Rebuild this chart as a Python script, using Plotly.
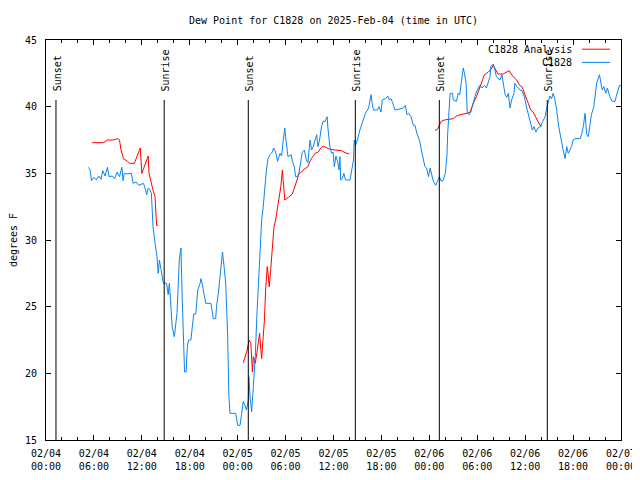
import pandas as pd
import plotly.graph_objects as go

# ---------------- data ----------------
base_time = "2025-02-04 00:00"

# C1828 observations (hours after 02/04 00:00 UTC, dew point F)
obs_hours = [5.3, 5.5, 5.7, 6.0, 6.3, 6.6, 6.9, 7.1, 7.4, 7.7, 7.9, 8.3, 8.6, 8.9, 9.2, 9.5, 9.65, 9.8,
             10.2, 10.7, 10.9, 11.3, 11.6, 12.2, 12.4, 12.6, 12.8, 13.0, 13.2, 13.4, 13.6, 13.9, 14.05,
             14.2, 14.4, 14.7, 15.1, 15.3, 15.45, 15.65, 15.8, 16.07, 16.4, 16.7, 16.9, 17.05, 17.2,
             17.35, 17.55, 17.7, 17.85, 18.15, 18.3, 18.5, 18.75, 18.9, 19.0, 19.3, 19.4, 19.55, 19.8,
             20.0, 20.65, 20.95, 21.25, 21.35, 21.6, 21.8, 22.0, 22.1, 22.3, 22.5, 22.75, 22.9, 23.04,
             23.75, 24.0, 24.3, 24.5, 24.7, 24.9, 25.1, 25.33, 25.4, 25.55, 25.65, 25.75, 25.96, 26.2,
             26.4, 26.6, 26.8, 27.0, 27.2, 27.4, 27.6, 27.8, 28.05, 28.35, 28.5, 28.75, 29.0, 29.3,
             29.5, 29.7, 29.9, 30.0, 30.1, 30.3, 30.7, 30.85, 31.1, 31.25, 31.5, 31.7, 31.8, 32.1,
             32.35, 32.6, 32.8, 33.06, 33.25, 33.45, 33.7, 33.9, 34.05, 34.25, 34.5, 34.7, 34.95,
             35.2, 35.3, 35.55, 35.75, 35.95, 36.1, 36.3, 36.5, 36.7, 36.8, 36.9, 37.1, 37.3, 37.5,
             38.07, 38.5, 38.6, 38.75, 39.0, 39.3, 39.7, 40.0, 40.4, 40.7, 40.85, 41.0, 41.5, 41.7,
             41.95, 42.1, 42.5, 42.8, 43.0, 43.2, 43.4, 43.7, 44.1, 44.75, 45.0, 45.2, 45.4, 45.7,
             46.0, 46.2, 46.4, 46.6, 46.8, 47.0, 47.2, 47.45, 47.65, 47.9, 48.1, 48.3, 48.5, 48.8,
             49.05, 49.25, 49.5, 49.75, 50.0, 50.2, 50.3, 50.5, 50.6, 50.9, 51.0, 51.4, 51.6, 51.8,
             52.05, 52.25, 52.4, 52.6, 52.75, 53.0, 53.2, 53.4, 53.7, 53.9, 54.3, 54.6, 54.9, 55.15,
             55.4, 55.6, 55.7, 56.0, 56.2, 56.4, 56.85, 57.1, 57.3, 57.5, 57.7, 57.9, 58.1, 58.3,
             58.6, 58.7, 59.0, 59.35, 59.6, 59.9, 60.2, 60.5, 60.7, 60.9, 61.1, 61.35, 61.6, 61.9,
             62.2, 62.5, 62.7, 62.9, 63.1, 63.3, 63.5, 63.7, 63.95, 64.2, 64.4, 64.6, 64.8, 65.0,
             65.2, 65.4, 65.6, 65.8, 66.0, 66.25, 66.9, 67.1, 67.3, 67.5, 67.7, 67.9, 68.1, 68.3,
             68.6, 68.75, 68.95, 69.3, 69.45, 69.65, 69.85, 70.1, 70.3, 70.6, 70.9, 71.25, 71.4,
             71.6, 71.8, 72.0]
obs_values = [35.45, 35.3, 34.45, 34.7, 34.5, 34.8, 34.55, 35.2, 34.8, 35.45, 34.75, 34.8, 34.6, 35.1,
              34.75, 35.45, 34.45, 35.0, 34.95, 35.0, 34.25, 34.35, 34.1, 34.25, 33.9, 33.4, 33.9,
              33.8, 33.5, 31.0, 30.0, 28.75, 27.5, 28.5, 27.8, 26.75, 26.75, 25.9, 26.75, 25.25, 23.5,
              22.75, 24.5, 28.6, 29.4, 25.75, 22.0, 20.1, 20.1, 22.0, 22.5, 22.5, 23.4, 24.45, 24.45,
              25.6, 26.25, 26.75, 27.1, 26.75, 25.75, 25.25, 25.25, 24.1, 24.1, 25.0, 26.1, 27.5,
              28.4, 29.1, 28.0, 26.75, 22.75, 18.25, 17.0, 17.0, 16.1, 16.1, 17.0, 17.9, 17.6, 17.25,
              18.0, 19.75, 18.25, 17.3, 17.1, 19.0, 21.25, 24.25, 27.0, 29.75, 31.5, 32.5, 34.0,
              35.25, 36.1, 36.4, 36.6, 36.9, 36.6, 35.9, 36.5, 36.3, 37.4, 38.4, 37.75, 37.2, 36.25,
              36.4, 35.9, 35.5, 34.75, 34.75, 35.1, 35.5, 36.6, 36.75, 36.0, 35.8, 37.5, 36.75, 37.0,
              37.5, 37.9, 37.0, 37.5, 38.5, 38.9, 38.9, 39.25, 38.4, 37.0, 36.5, 36.6, 35.5, 36.3,
              35.9, 35.25, 36.25, 34.5, 34.6, 35.0, 34.5, 34.5, 36.0, 37.5, 37.1, 37.5, 38.25, 38.9,
              39.5, 39.9, 40.9, 40.2, 39.75, 39.75, 40.0, 39.6, 40.5, 40.6, 40.8, 40.5, 40.6, 40.3,
              39.75, 39.8, 39.9, 40.1, 39.4, 39.5, 39.25, 38.6, 38.6, 38.1, 37.75, 37.4, 36.75, 36.25,
              35.5, 35.4, 34.75, 35.4, 34.75, 34.4, 34.1, 34.4, 34.75, 34.4, 34.5, 35.0, 36.25, 38.0,
              39.75, 41.0, 41.0, 40.5, 40.4, 41.0, 40.9, 42.0, 42.9, 42.5, 41.75, 39.5, 39.4, 39.6,
              40.1, 40.75, 41.1, 41.6, 41.4, 41.6, 41.4, 42.0, 42.25, 43.0, 43.2, 42.8, 42.25, 42.0,
              42.4, 41.6, 40.9, 40.7, 41.0, 39.9, 40.5, 41.0, 41.75, 41.5, 41.25, 41.2, 40.75, 39.9,
              39.25, 38.75, 38.25, 38.5, 38.1, 38.4, 38.5, 38.9, 39.25, 39.9, 40.4, 40.8, 40.6, 41.0,
              40.6, 39.75, 38.5, 37.75, 37.25, 36.6, 36.1, 37.0, 36.5, 36.8, 37.0, 37.5, 37.6, 37.6,
              38.0, 38.6, 39.5, 37.9, 37.75, 38.6, 39.4, 40.0, 41.0, 41.75, 42.4, 41.75, 41.25, 41.5,
              41.0, 41.4, 40.75, 40.4, 40.4, 40.75, 41.25, 41.6, 41.6]

# C1828 Analysis, three separate runs
ana1_hours = [5.8, 7.2, 7.7, 8.4, 9.0, 9.2, 9.4, 9.7, 10.2, 10.5, 11.06, 11.35, 11.8, 12.0, 12.5,
              12.8, 12.9, 13.15, 13.4, 13.65, 13.85, 14.05]
ana1_values = [37.3, 37.3, 37.5, 37.5, 37.6, 37.5, 36.75, 36.1, 35.9, 35.75, 35.75, 36.25, 36.9,
               35.0, 35.9, 36.3, 35.0, 34.25, 33.75, 33.25, 31.1, 31.1]
ana2_hours = [24.7, 25.0, 25.2, 25.3, 25.45, 25.65, 25.85, 25.96, 26.2, 26.4, 26.6, 26.75, 26.9,
              27.0, 27.2, 27.35, 27.5, 27.7, 27.8, 27.95, 28.1, 28.25, 28.4, 28.55, 28.75, 28.95,
              29.2, 29.4, 29.6, 29.7, 29.9, 30.35, 30.85, 31.1, 31.4, 31.7, 32.0, 32.2, 32.8, 33.05,
              33.35, 33.7, 34.1, 34.4, 34.7, 35.0, 35.55, 36.2, 37.0, 37.45, 37.95]
ana2_values = [20.8, 21.3, 21.75, 22.1, 22.5, 22.25, 20.1, 21.25, 20.75, 21.5, 22.25, 23.0, 21.75,
               21.1, 22.75, 24.0, 26.25, 28.0, 27.5, 26.5, 27.5, 28.5, 29.5, 31.0, 31.5, 32.25,
               33.1, 34.0, 35.25, 34.6, 33.0, 33.2, 33.45, 33.9, 34.4, 35.0, 35.1, 35.25, 35.5,
               35.9, 36.2, 36.5, 36.6, 36.9, 37.05, 36.95, 36.8, 36.75, 36.7, 36.55, 36.45]
ana3_hours = [48.7, 49.0, 49.25, 49.5, 49.9, 50.4, 51.0, 51.4, 51.85, 52.7, 53.1, 53.5, 53.9, 54.3,
              54.6, 54.9, 55.4, 55.7, 56.0, 56.3, 56.6, 57.25, 57.7, 58.0, 58.2, 58.5, 58.95, 59.3,
              59.6, 59.9, 60.2, 60.5, 60.7, 61.0, 61.3, 61.55, 61.85, 62.1]
ana3_values = [38.2, 38.3, 38.6, 38.9, 39.0, 39.05, 39.1, 39.3, 39.4, 39.5, 39.6, 40.25, 40.75, 41.4,
               41.9, 42.4, 42.6, 42.8, 43.1, 42.75, 42.45, 42.45, 42.6, 42.7, 42.5, 42.25, 42.0,
               41.6, 41.5, 41.0, 40.5, 40.0, 39.75, 39.6, 39.25, 38.9, 38.6, 38.55]

# sunrise / sunset events (hours after 02/04 00:00 UTC)
event_hours = [1.25, 14.8, 25.33, 38.73, 49.25, 62.77]
event_labels = ["Sunset", "Sunrise", "Sunset", "Sunrise", "Sunset", "Sunrise"]

tick_hours = [0, 6, 12, 18, 24, 30, 36, 42, 48, 54, 60, 66, 72]
tick_labels = ["02/04<br>00:00", "02/04<br>06:00", "02/04<br>12:00", "02/04<br>18:00",
               "02/05<br>00:00", "02/05<br>06:00", "02/05<br>12:00", "02/05<br>18:00",
               "02/06<br>00:00", "02/06<br>06:00", "02/06<br>12:00", "02/06<br>18:00",
               "02/07<br>00:00"]

# ---------------- build ----------------
t0 = pd.Timestamp(base_time)


def to_time(hours):
    return [None if h is None else t0 + pd.Timedelta(hours=h) for h in hours]


ana_hours = ana1_hours + [None] + ana2_hours + [None] + ana3_hours
ana_values = ana1_values + [None] + ana2_values + [None] + ana3_values

FONT = "DejaVu Sans Mono"
RED = "#ff0000"
BLUE = "#0a84f0"

fig = go.Figure()
fig.add_trace(go.Scatter(x=to_time(ana_hours), y=ana_values, mode="lines", name="C1828 Analysis",
                         line=dict(color=RED, width=1), connectgaps=False))
fig.add_trace(go.Scatter(x=to_time(obs_hours), y=obs_values, mode="lines", name="C1828",
                         line=dict(color=BLUE, width=1)))

for h, lab in zip(event_hours, event_labels):
    t = t0 + pd.Timedelta(hours=h)
    fig.add_shape(type="line", xref="x", yref="y", x0=t, x1=t, y0=15, y1=40.5,
                  line=dict(color="black", width=1))
    fig.add_annotation(x=t, y=41.0, xref="x", yref="y", text=lab, textangle=-90,
                       showarrow=False, xanchor="center", yanchor="bottom", xshift=1,
                       font=dict(family=FONT, size=10, color="black"))

# gnuplot-style key: text right-aligned, sample line to the right
key_items = [("C1828 Analysis", RED, 0.977), ("C1828", BLUE, 0.944)]
for txt, col, yk in key_items:
    fig.add_annotation(x=0.918, y=yk, xref="paper", yref="paper", text=txt, showarrow=False,
                       xanchor="right", yanchor="middle",
                       font=dict(family=FONT, size=10, color="black"))
    fig.add_shape(type="line", xref="paper", yref="paper", x0=0.932, x1=0.981, y0=yk, y1=yk,
                  line=dict(color=col, width=1))

fig.update_layout(
    width=640, height=480,
    margin=dict(l=38, r=27, t=32, b=48),
    paper_bgcolor="white", plot_bgcolor="white",
    showlegend=False,
    font=dict(family=FONT, size=10, color="black"),
    title=dict(text="Dew Point for C1828 on 2025-Feb-04 (time in UTC)", xref="paper", x=0.5,
               xanchor="center", y=0.975, yanchor="middle",
               font=dict(family=FONT, size=10, color="black")),
)
fig.update_xaxes(
    type="date", automargin=False,
    range=[t0, t0 + pd.Timedelta(hours=72)],
    tickvals=to_time(tick_hours), ticktext=tick_labels,
    ticks="inside", ticklen=5, tickwidth=1, tickcolor="black",
    minor=dict(dtick=2 * 3600 * 1000, ticks="inside", ticklen=3, tickcolor="black", showgrid=False),
    showline=True, linecolor="black", linewidth=1, mirror="allticks",
    showgrid=False, zeroline=False,
    ticklabelstandoff=4,
    tickfont=dict(family=FONT, size=10, color="black"),
)
fig.update_yaxes(
    automargin=False,
    range=[15, 45], dtick=5, tick0=15,
    ticks="inside", ticklen=5, tickwidth=1, tickcolor="black",
    showline=True, linecolor="black", linewidth=1, mirror="allticks",
    showgrid=False, zeroline=False,
    tickfont=dict(family=FONT, size=10, color="black"),
    ticklabelstandoff=6,
    title=dict(text="degrees F", standoff=9, font=dict(family=FONT, size=10, color="black")),
)

fig.write_html("out.html")
